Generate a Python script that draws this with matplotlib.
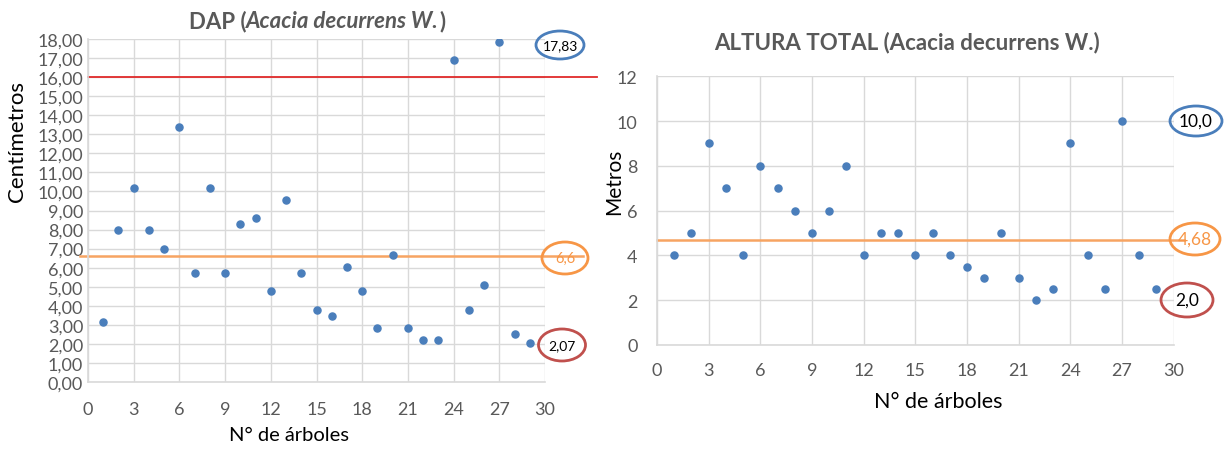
import matplotlib.pyplot as plt
from matplotlib.patches import Ellipse

plt.rcParams['font.family'] = ['Lato', 'DejaVu Sans']

arboles = list(range(1, 30))

dap = [3.15, 8.0, 10.2, 8.0, 7.0, 13.38, 5.72, 10.2, 5.72, 8.27,
       8.59, 4.77, 9.53, 5.7, 3.8, 3.48, 6.02, 4.77, 2.83, 6.66,
       2.83, 2.2, 2.2, 16.89, 3.8, 5.08, 17.83, 2.53, 2.07]
altura = [4, 5, 9, 7, 4, 8, 7, 6, 5, 6,
          8, 4, 5, 5, 4, 5, 4, 3.5, 3, 5,
          3, 2, 2.5, 9, 4, 2.5, 10, 4, 2.5]

dap_media = 6.6
dap_limite = 16.0
dap_max = 17.83
dap_min = 2.07
alt_media = 4.68
alt_max = 10.0
alt_min = 2.0

AZUL = '#4A7EBB'
GRIS = '#595959'
REJILLA = '#D9D9D9'
NARANJA = '#F7A462'
ROJO = '#E02B2B'

W, H = 1232, 456
fig = plt.figure(figsize=(W / 100, H / 100), dpi=100)


def estilo(ax):
    ax.grid(True, color=REJILLA, linewidth=1)
    ax.set_axisbelow(True)
    for s in ['top', 'right']:
        ax.spines[s].set_visible(False)
    for s in ['left', 'bottom']:
        ax.spines[s].set_color(REJILLA)
        ax.spines[s].set_linewidth(1.2)
    ax.tick_params(length=0, colors=GRIS, labelsize=13)
    ax.set_xlim(0, 30)
    ax.set_xticks(range(0, 31, 3))


def ovalo(cx, cy, w, h, texto, color, color_txt='black', size=10.5):
    fig.add_artist(Ellipse((cx / W, 1 - cy / H), w / W, h / H,
                           transform=fig.transFigure, fill=False,
                           edgecolor=color, linewidth=2))
    fig.text(cx / W, 1 - cy / H, texto, ha='center', va='center',
             color=color_txt, fontsize=size)


def titulo(cx, cy, partes, size=16):
    # texto con tramos en distinto estilo, centrado en (cx, cy) en pixeles
    r = fig.canvas.get_renderer()
    objs = []
    for txt, estilo_f in partes:
        t = fig.text(0, 1 - cy / H, txt, ha='left', va='center', fontsize=size,
                     fontweight='bold', fontstyle=estilo_f, color=GRIS)
        objs.append(t)
    anchos = [t.get_window_extent(r).width for t in objs]
    x = cx - sum(anchos) / 2
    for t, a in zip(objs, anchos):
        t.set_x(x / W)
        x += a


# DAP
ax1 = fig.add_axes([88 / W, 1 - 383 / H, 457 / W, 343 / H])
estilo(ax1)
ax1.scatter(arboles, dap, s=26, color=AZUL, zorder=3)
ax1.set_ylim(0, 18)
ax1.set_yticks(range(0, 19))
ax1.set_yticklabels([f'{v},00' for v in range(0, 19)])
ax1.tick_params(axis='x', pad=14)
ax1.plot([0, 33.4], [dap_limite, dap_limite], color=ROJO, lw=1.3,
         clip_on=False, zorder=2)
ax1.plot([-0.5, 32.5], [dap_media, dap_media], color=NARANJA, lw=1.8,
         clip_on=False, zorder=2)
fig.text(17 / W, 1 - 142 / H, 'Centímetros', rotation=90, ha='center',
         va='center', fontsize=16)
fig.text(289 / W, 1 - 436 / H, 'N° de árboles', ha='center', va='center',
         fontsize=14.5)
titulo(317, 22, [('DAP (', 'normal'), ('Acacia decurrens W.', 'italic'),
                 (')', 'normal')])

ovalo(560, 46, 48, 28, f'{dap_max:.2f}'.replace('.', ','), '#4A7EBB', size=10)
ovalo(565, 259, 46, 32, f'{dap_media:.1f}'.replace('.', ','), '#F79646',
      color_txt='#F79646', size=10.5)
ovalo(562, 346, 47, 32, f'{dap_min:.2f}'.replace('.', ','), '#C0504D', size=10)

# Altura total
ax2 = fig.add_axes([657 / W, 1 - 346 / H, 516.6 / W, 268.7 / H])
estilo(ax2)
ax2.scatter(arboles, altura, s=26, color=AZUL, zorder=3)
ax2.set_ylim(0, 12)
ax2.set_yticks(range(0, 13, 2))
ax2.tick_params(axis='x', pad=12)
ax2.tick_params(axis='y', pad=14)
ax2.plot([0, 30.6], [alt_media, alt_media], color=NARANJA, lw=1.8,
         clip_on=False, zorder=2)
fig.text(614 / W, 1 - 182 / H, 'Metros', rotation=90, ha='center',
         va='center', fontsize=15)
fig.text(938 / W, 1 - 402 / H, 'N° de árboles', ha='center', va='center',
         fontsize=15.5)
titulo(907, 43, [('ALTURA TOTAL (Acacia decurrens W.)', 'normal')])

ovalo(1196, 122, 52, 30, f'{alt_max:.1f}'.replace('.', ','), '#4A7EBB', size=12.5)
ovalo(1195, 240, 50, 32, f'{alt_media:.2f}'.replace('.', ','), '#F79646',
      color_txt='#F79646', size=12.5)
ovalo(1187, 301, 52, 34, f'{alt_min:.1f}'.replace('.', ','), '#C0504D', size=12.5)

fig.savefig('out.png', dpi=100)
